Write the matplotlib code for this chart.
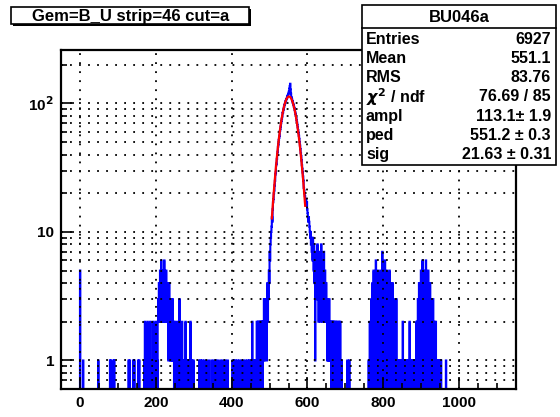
import numpy as np
import matplotlib
matplotlib.use("Agg")
import matplotlib.pyplot as plt
from matplotlib.patches import Rectangle
from matplotlib.ticker import LogLocator, FixedLocator, MultipleLocator, FuncFormatter

plt.rcParams['font.family'] = ['Liberation Sans', 'DejaVu Sans']
plt.rcParams['font.weight'] = 'bold'

# histogram: 1-unit bins from -50 to 1150
x_lo, x_hi = -50, 1150

# contiguous bins around the pedestal peak, starting at core_first
core_first = 466
core_counts = [
    2, 0, 1, 2, 0, 2, 1, 0, 2, 1, 2, 0, 2, 1, 2, 0, 2, 1, 2, 3,   # 466-485
    1, 3, 2, 3, 2, 3, 1, 3, 4, 2, 4, 3, 5, 4, 7,                  # 486-500
    6, 8, 9, 10, 11, 13, 12, 15, 17, 18, 20, 21, 23, 25, 28,      # 501-515
    29, 33, 34, 37, 40, 42, 46, 48, 52, 54, 56, 61, 63, 66, 70,   # 516-530
    73, 76, 79, 84, 85, 89, 91, 94, 97, 99, 101, 104, 105, 108, 109,  # 531-545
    111, 114, 116, 118, 121, 124, 130, 136, 142, 128, 119, 112, 110, 107, 104,  # 546-560
    101, 99, 97, 94, 92, 89, 86, 83, 80, 77, 74, 71, 68, 65, 62,  # 561-575
    59, 56, 53, 50, 47, 44, 41, 39, 36, 33, 31, 29, 27, 25, 22,   # 576-590
    21, 20, 19, 18, 17, 18, 16, 17, 15, 14, 13, 12, 13, 12, 11,   # 591-605
    10, 9, 10, 8, 9, 7, 8, 6, 9, 7, 5, 8, 4, 6, 3,               # 606-620
    7, 5, 3, 6, 4, 8, 3, 5, 2, 7, 4, 3, 6, 2, 5,                 # 621-635
    8, 3, 4, 6, 2, 5, 3, 7, 4, 2, 5, 3, 2, 4, 3,                 # 636-650
    2, 1, 3, 2, 1, 2, 3, 1, 2, 2, 1, 2, 0, 2, 1,                 # 651-665
    2, 0, 2, 1, 2, 0, 1, 2, 0, 1, 2, 0, 1, 2, 0,                 # 666-680
    1, 0, 2, 1, 0, 2, 1, 0, 0, 1,                                # 681-690
]

# isolated / noise bins outside the core: bin position and content
hit_bins = [
    0, 8, 48, 79, 81, 88, 90, 128, 131, 140, 143, 153, 156,
    169, 171, 173, 176, 178, 180, 183, 185, 187, 189, 192, 194, 196, 199, 201, 203,
    205, 206, 207, 208, 209, 210, 211, 212, 213, 214, 215, 216, 217, 218, 219, 220,
    221, 222, 223, 224, 225, 226, 227, 228, 229, 230, 231, 232, 233, 234, 235, 236,
    237, 238, 239, 240, 241, 242, 243, 244, 245, 246, 247,
    249, 251, 253, 255, 257, 260, 262, 264, 267, 269, 272, 275, 278, 281, 284, 288,
    291, 295, 299,
    314, 318, 322, 327, 333, 340, 347, 353, 358, 363, 370, 376, 383, 389,
    402, 406, 410, 415, 420, 426, 431, 437, 442, 446, 450, 454, 458, 462,
    620, 705, 710,
    761, 764, 766, 768, 770, 771, 773, 774, 776, 777, 779, 780, 782, 783, 785, 786,
    788, 789, 791, 792, 794, 795, 797, 798, 800, 801, 803, 804, 806, 807, 809, 810,
    812, 813, 815, 816, 818, 819, 821, 822, 824, 825, 827, 829, 830, 832, 834, 836,
    839, 842, 845, 848, 851, 854, 857, 860, 863, 866, 869, 872, 875, 878, 881, 884, 887,
    889, 891, 893, 894, 896, 897, 899, 900, 902, 903, 905, 906, 908, 909, 911, 912,
    914, 915, 917, 918, 920, 921, 923, 924, 926, 928, 929, 931, 933, 934, 936, 938,
    940, 942, 945, 948, 952, 965,
]
hit_counts = [
    5, 1, 1, 1, 1, 1, 1, 1, 1, 1, 1, 1, 1,
    1, 2, 1, 1, 2, 1, 1, 2, 1, 1, 2, 1, 1, 2, 1, 1,
    2, 3, 2, 4, 2, 3, 5, 2, 3, 6, 3, 2, 4, 3, 5, 2,
    3, 6, 2, 4, 3, 2, 5, 3, 2, 4, 2, 3, 1, 2, 4, 2,
    3, 1, 2, 3, 1, 2, 1, 3, 1, 2, 1,
    2, 1, 1, 2, 1, 1, 3, 1, 1, 2, 1, 1, 2, 1, 1, 1,
    2, 1, 1,
    1, 1, 1, 1, 1, 1, 1, 1, 1, 1, 1, 1, 1, 1,
    1, 1, 1, 1, 1, 1, 1, 1, 1, 1, 1, 2, 1, 1,
    1, 1, 1,
    1, 2, 1, 3, 2, 4, 2, 5, 3, 2, 4, 6, 3, 2, 5, 3,
    4, 2, 3, 5, 2, 4, 7, 3, 5, 2, 4, 6, 3, 2, 5, 3,
    4, 2, 3, 5, 2, 4, 3, 2, 4, 2, 3, 1, 2, 1, 3, 1,
    1, 1, 1, 1, 2, 1, 1, 1, 1, 1, 2, 1, 1, 1, 1, 1, 2,
    2, 3, 1, 4, 2, 3, 5, 2, 4, 6, 3, 2, 5, 3, 4, 6,
    2, 4, 3, 5, 2, 3, 4, 2, 3, 1, 2, 3, 1, 2, 1, 2,
    1, 1, 1, 1, 1, 1,
]

# gaussian fit parameters
ampl, ped, sig = 113.1, 551.2, 21.63
fit_lo, fit_hi = 506, 594

edges = np.arange(x_lo, x_hi + 1)
counts = np.zeros(len(edges) - 1)
counts[core_first - x_lo:core_first - x_lo + len(core_counts)] = core_counts
counts[np.array(hit_bins) - x_lo] = hit_counts

W, H = 560, 417
fig = plt.figure(figsize=(W / 100, H / 100), dpi=100)
ax = fig.add_axes([61 / W, 1 - 389 / H, (516 - 61) / W, (389 - 50) / H])

ymin, ymax = 0.6, 260
# empty bins drop below the frame, as ROOT does on a log axis
plot_counts = np.where(counts > 0, counts, 1e-3)
ax.stairs(plot_counts, edges, color='#0000ff', lw=1.5, baseline=None)

xf = np.linspace(fit_lo, fit_hi, 300)
ax.plot(xf, ampl * np.exp(-0.5 * ((xf - ped) / sig) ** 2), color='#ff0000', lw=1.6)

ax.set_yscale('log')
ax.set_xlim(x_lo, x_hi)
ax.set_ylim(ymin, ymax)

ax.xaxis.set_major_locator(MultipleLocator(200))
ax.xaxis.set_minor_locator(MultipleLocator(50))
ax.yaxis.set_major_locator(FixedLocator([1, 10, 100]))
ax.yaxis.set_minor_locator(LogLocator(base=10, subs=np.arange(2, 10), numticks=20))
ylabels = {1: '1', 10: '10', 100: r'10$^{\mathbf{2}}$'}
ax.yaxis.set_major_formatter(FuncFormatter(lambda v, p: ylabels.get(int(round(v)), '')))
ax.yaxis.set_minor_formatter(FuncFormatter(lambda v, p: ''))
ax.xaxis.set_major_formatter(FuncFormatter(lambda v, p: '%d' % v if 0 <= v <= 1000 else ''))

ax.tick_params(which='both', direction='in', top=False, right=False, width=1.2, labelsize=11)
ax.tick_params(which='major', length=9, pad=5)
ax.tick_params(which='minor', length=4.5)
for lab in ax.get_xticklabels() + ax.get_yticklabels():
    lab.set_fontweight('bold')

ax.grid(True, which='major', axis='x', color='black', linestyle=(0, (1, 4)), lw=1.3)
ax.grid(True, which='both', axis='y', color='black', linestyle=(0, (1, 4)), lw=1.3)
for s in ax.spines.values():
    s.set_linewidth(1.6)


def px_box(x0, y0, x1, y1, shadow=True):
    # rectangle given in pixels, origin at the top-left corner
    if shadow:
        fig.patches.append(Rectangle(((x0 + 2) / W, 1 - (y1 + 2) / H), (x1 - x0) / W, (y1 - y0) / H,
                                     transform=fig.transFigure, facecolor='black', edgecolor='none'))
    fig.patches.append(Rectangle((x0 / W, 1 - y1 / H), (x1 - x0) / W, (y1 - y0) / H,
                                 transform=fig.transFigure, facecolor='white', edgecolor='black', lw=1.2))


def px_text(x, y, s, ha='left', size=11.5):
    fig.text(x / W, 1 - y / H, s, ha=ha, va='center', fontsize=size, fontweight='bold')


# title pave
px_box(11, 7, 249, 24)
px_text(131, 16, 'Gem=B_U strip=46 cut=a', ha='center', size=12)

# stats pave
px_box(362, 5, 556, 165, shadow=False)
fig.add_artist(plt.Line2D([362 / W, 556 / W], [1 - 28 / H] * 2, color='black', lw=1.2))
px_text(459, 17, 'BU046a', ha='center', size=12)
stat_rows = [
    ('Entries', '6927'),
    ('Mean', '551.1'),
    ('RMS', '83.76'),
    (r'$\chi^{\mathbf{2}}$ / ndf', '76.69 / 85'),
    ('ampl', '113.1\u00b1 1.9'),
    ('ped', '551.2 \u00b1 0.3'),
    ('sig', '21.63 \u00b1 0.31'),
]
for i, (name, val) in enumerate(stat_rows):
    yy = 39 + i * 19.3
    px_text(366, yy, name)
    px_text(551, yy, val, ha='right')

fig.savefig('out.png', dpi=100)
